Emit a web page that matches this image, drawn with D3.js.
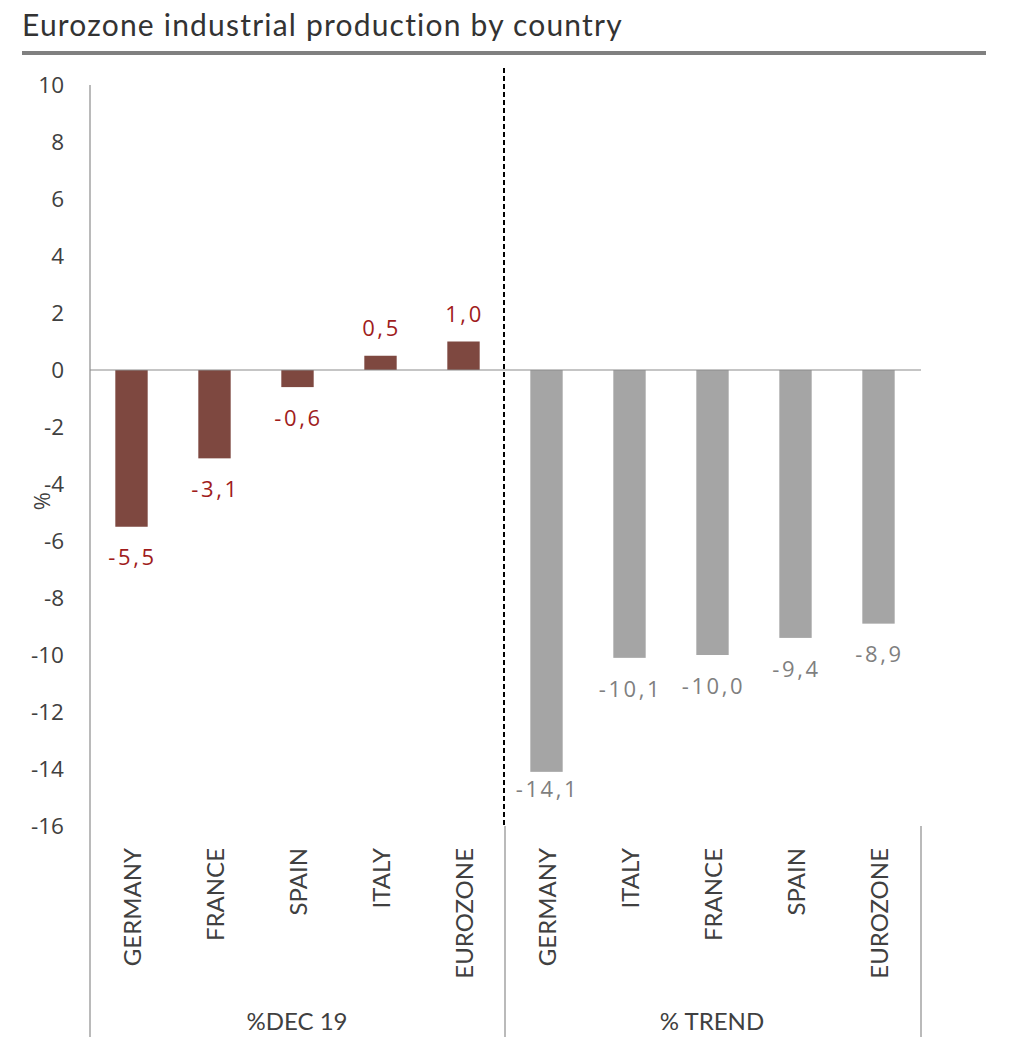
<!DOCTYPE html>
<html><head><meta charset="utf-8">
<script src="https://cdn.jsdelivr.net/npm/d3@7"></script>
<style>body{margin:0;background:#fff}</style>
</head><body>
<svg id="c" width="1024" height="1058"></svg>
<script>
const title = "Eurozone industrial production by country";
const groups = ["%DEC 19", "% TREND"];
const dec19Countries = ["GERMANY","FRANCE","SPAIN","ITALY","EUROZONE"];
const dec19Values = [-5.5, -3.1, -0.6, 0.5, 1.0];
const trendCountries = ["GERMANY","ITALY","FRANCE","SPAIN","EUROZONE"];
const trendValues = [-14.1, -10.1, -10.0, -9.4, -8.9];
const yTicks = [10,8,6,4,2,0,-2,-4,-6,-8,-10,-12,-14,-16];

const rows = [
  ...dec19Countries.map((c,i)=>({key:"d"+i, cat:c, v:dec19Values[i], g:0})),
  ...trendCountries.map((c,i)=>({key:"t"+i, cat:c, v:trendValues[i], g:1}))
];

const svg = d3.select("#c");
const L = 90, R = 920, T = 85, B = 826, axisBottom = 1037;
const x = d3.scaleBand().domain(rows.map(d=>d.key)).range([L,R]).paddingInner(0.61).paddingOuter(0.305);
const y = d3.scaleLinear().domain([-16,10]).range([B,T]);
const fmt = v => d3.format(".1f")(v).replace(".", ",").replace("−","-");

// title
svg.append("text").attr("x",22).attr("y",36).text(title)
  .attr("font-family","Lato").attr("font-size",30).attr("letter-spacing",1.2).attr("fill","#333");
svg.append("rect").attr("x",22).attr("y",51).attr("width",964).attr("height",4).attr("fill","#808080");

// y axis ticks
const ya = svg.append("g").attr("transform",`translate(${L},0)`)
  .call(d3.axisLeft(y).tickValues(yTicks).tickSize(0).tickPadding(26).tickFormat(d=>String(d)));
ya.select(".domain").remove();
ya.selectAll("text").attr("font-family","Open Sans").attr("font-size",22.5).attr("fill","#404040");
svg.append("line").attr("x1",L).attr("x2",L).attr("y1",T).attr("y2",axisBottom).attr("stroke","#8c8c8c").attr("stroke-width",1.2);

// % label
svg.append("text").attr("transform",`translate(50,${y(-4.6)}) rotate(-90)`).attr("text-anchor","middle")
  .attr("font-family","Open Sans").attr("font-size",22).attr("fill","#404040").text("%");

// bars
svg.selectAll("rect.bar").data(rows).join("rect").attr("class","bar")
  .attr("x",d=>x(d.key)).attr("width",x.bandwidth())
  .attr("y",d=>y(Math.max(0,d.v))).attr("height",d=>Math.abs(y(d.v)-y(0)))
  .attr("fill",d=>d.g===0?"#7e4840":"#a5a5a5");

// zero line
svg.append("line").attr("x1",L).attr("x2",R+1).attr("y1",y(0)).attr("y2",y(0)).attr("stroke","#8c8c8c").attr("stroke-width",1.2);

// value labels
svg.selectAll("text.val").data(rows).join("text").attr("class","val")
  .attr("x",d=>x(d.key)+x.bandwidth()/2+1)
  .attr("y",d=> d.v>=0 ? y(d.v)-27 : Math.min(y(d.v)+31, y(-16)-37))
  .attr("dy","0.35em").attr("text-anchor","middle")
  .attr("font-family","Open Sans").attr("font-size",22).attr("letter-spacing",2.6)
  .attr("fill",d=>d.g===0?"#a01c1c":"#7f7f7f").text(d=>fmt(d.v));

// dashed separator
const sepX = x(rows[5].key) - x.step()*x.paddingInner()/2 - 1;
svg.append("line").attr("x1",sepX).attr("x2",sepX).attr("y1",68).attr("y2",B)
  .attr("stroke","#000").attr("stroke-width",2).attr("stroke-dasharray","5,3");

// group dividers
[sepX+1, R+1].forEach(gx=>{
  svg.append("line").attr("x1",gx).attr("x2",gx).attr("y1",B).attr("y2",axisBottom).attr("stroke","#8c8c8c").attr("stroke-width",1.2);
});

// category labels
svg.selectAll("text.cat").data(rows).join("text").attr("class","cat")
  .attr("transform",d=>`translate(${x(d.key)+x.bandwidth()/2+9},848) rotate(-90)`)
  .attr("text-anchor","end").attr("font-family","Lato").attr("font-size",24).attr("fill","#404040")
  .text(d=>d.cat);

// group labels
const gCenters = [ (L+sepX)/2, (sepX+R)/2 ];
svg.selectAll("text.grp").data(groups).join("text").attr("class","grp")
  .attr("x",(d,i)=>gCenters[i]).attr("y",1030).attr("text-anchor","middle")
  .attr("font-family","Lato").attr("font-size",24).attr("fill","#404040").text(d=>d);
</script>
</body></html>
